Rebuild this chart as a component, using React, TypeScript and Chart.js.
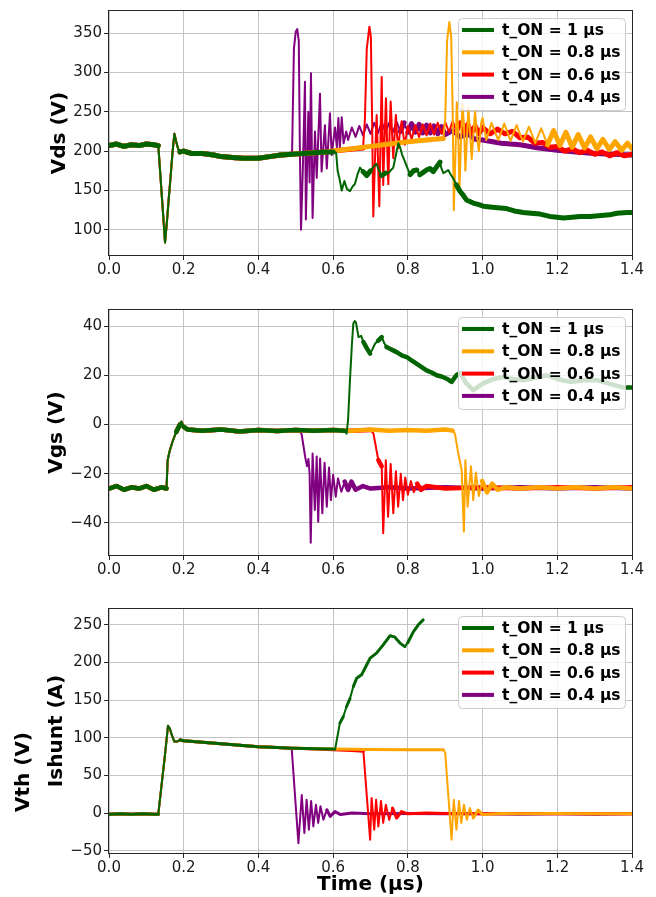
import React, { useEffect, useRef } from "react";
import { Chart, registerables } from "chart.js";

Chart.register(...registerables);

const FONT = "'DejaVu Sans', sans-serif";

const SERIES_LABELS = ["t_ON = 1 µs", "t_ON = 0.8 µs", "t_ON = 0.6 µs", "t_ON = 0.4 µs"];
const SERIES_COLORS = ["#006400", "#FFA500", "#FF0000", "#800080"];

const X_TICKS = [0, 0.2, 0.4, 0.6, 0.8, 1.0, 1.2, 1.4];
const X_TITLE = "Time (µs)";

// ---------- Vds (V) ----------
const VDS_TICKS = [100, 150, 200, 250, 300, 350];
const VDS_SHARED: number[][] = [[0,207],[0.02,209],[0.04,206],[0.06,208],[0.08,207],[0.10,209],[0.12,208],[0.132,207],[0.137,173],[0.142,139],[0.146,112],[0.150,84],[0.155,110],[0.160,140],[0.165,168],[0.170,198],[0.175,222],[0.180,212],[0.185,203],[0.190,199],[0.200,200],[0.220,197],[0.250,197],[0.280,195],[0.300,193],[0.330,192],[0.360,191],[0.400,191],[0.430,193],[0.460,195],[0.490,196]];
const VDS_GREEN: number[][] = [[0.52,197],[0.55,198],[0.58,199],[0.60,199],[0.608,198],[0.612,175],[0.617,165],[0.623,150],[0.630,162],[0.637,152],[0.645,149],[0.652,155],[0.658,158],[0.665,170],[0.672,179],[0.680,174],[0.690,169],[0.700,175],[0.708,180],[0.716,184],[0.722,176],[0.730,169],[0.740,172],[0.748,172],[0.755,176],[0.761,179],[0.768,195],[0.7745,210],[0.779,205],[0.785,195],[0.792,187],[0.800,177],[0.806,170],[0.815,175],[0.824,176],[0.832,170],[0.841,173],[0.850,176],[0.859,178],[0.868,174],[0.877,180],[0.886,186],[0.890,178],[0.895,172],[0.902,174],[0.908,176],[0.915,170],[0.922,165],[0.930,157],[0.9395,149],[0.948,144],[0.957,138],[0.966,136],[0.975,134],[0.990,132],[1.002,130],[1.020,129],[1.040,128],[1.064,127],[1.085,124],[1.109,122],[1.130,121],[1.154,120],[1.180,117],[1.200,116],[1.216,115],[1.240,116],[1.260,117],[1.288,117],[1.310,118],[1.340,119],[1.360,121],[1.386,122],[1.400,122]];
const VDS_ORANGE: number[][] = [[0.52,197],[0.55,198],[0.58,199],[0.60,200],[0.65,203],[0.70,206],[0.75,209],[0.80,212],[0.85,214],[0.895,216],[0.900,240],[0.905,340],[0.911,364],[0.916,345],[0.920,250],[0.923,125],[0.927,190],[0.931,262],[0.935,220],[0.938,150],[0.942,210],[0.946,260],[0.950,235],[0.954,175],[0.958,215],[0.962,255],[0.967,220],[0.971,190],[0.976,225],[0.980,250],[0.986,215],[0.990,200],[0.996,235],[1.000,242],[1.010,214],[1.024,236],[1.042,214],[1.058,235],[1.075,213],[1.091,233],[1.108,212],[1.124,231],[1.141,210],[1.157,229],[1.174,208],[1.190,226],[1.207,207],[1.223,224],[1.240,205],[1.256,221],[1.273,204],[1.289,218],[1.306,203],[1.322,215],[1.339,202],[1.355,212],[1.372,201],[1.388,210],[1.400,203]];
const VDS_RED: number[][] = [[0.52,197],[0.55,198],[0.58,199],[0.60,200],[0.62,201],[0.64,202],[0.66,203],[0.68,204],[0.685,240],[0.690,330],[0.697,358],[0.701,345],[0.704,250],[0.7075,117],[0.712,190],[0.7165,246],[0.720,190],[0.7236,130],[0.727,220],[0.730,294],[0.734,157],[0.738,220],[0.7414,267],[0.745,200],[0.7477,158],[0.751,220],[0.754,263],[0.758,220],[0.761,191],[0.765,225],[0.768,246],[0.771,220],[0.7745,204],[0.779,225],[0.7834,238],[0.788,220],[0.792,208],[0.800,232],[0.810,215],[0.820,233],[0.830,218],[0.840,234],[0.850,220],[0.860,235],[0.870,221],[0.880,236],[0.890,222],[0.900,237],[0.910,224],[0.920,238],[0.930,225],[0.940,236],[0.950,224],[0.960,234],[0.970,223],[0.980,232],[0.990,222],[1.000,230],[1.020,222],[1.040,228],[1.060,222],[1.080,225],[1.100,217],[1.120,218],[1.140,210],[1.160,211],[1.180,205],[1.200,206],[1.220,200],[1.240,203],[1.260,198],[1.280,201],[1.300,196],[1.320,199],[1.340,194],[1.360,198],[1.380,194],[1.400,196]];
const VDS_PURPLE: number[][] = [[0.495,330],[0.500,352],[0.504,355],[0.508,340],[0.511,200],[0.514,100],[0.519,180],[0.5246,288],[0.527,113],[0.5336,250],[0.537,160],[0.5407,299],[0.545,115],[0.5514,225],[0.556,166],[0.5648,273],[0.569,174],[0.578,233],[0.583,178],[0.5915,248],[0.596,195],[0.605,230],[0.610,205],[0.614,242],[0.618,204],[0.623,243],[0.628,210],[0.635,225],[0.640,214],[0.650,230],[0.660,218],[0.670,232],[0.680,220],[0.690,234],[0.700,222],[0.710,236],[0.720,223],[0.730,237],[0.740,224],[0.750,236],[0.760,224],[0.770,237],[0.780,225],[0.790,236],[0.800,224],[0.810,235],[0.820,224],[0.830,234],[0.840,223],[0.850,233],[0.860,223],[0.870,232],[0.880,222],[0.890,231],[0.900,221],[0.920,226],[0.940,218],[0.960,222],[0.980,215],[1.000,214],[1.050,210],[1.100,208],[1.150,204],[1.200,201],[1.250,199],[1.300,197],[1.350,196],[1.400,195]];

// ---------- Vgs (V) ----------
const VGS_TICKS = [-40, -20, 0, 20, 40];
const VGS_SHARED: number[][] = [[0,-26],[0.02,-25],[0.04,-26.5],[0.06,-25.5],[0.08,-26],[0.10,-25],[0.12,-26.5],[0.14,-25.5],[0.154,-26],[0.157,-14.5],[0.162,-11],[0.170,-7],[0.180,-3],[0.190,0],[0.194,1.2],[0.200,-1],[0.210,-2],[0.25,-2.5],[0.30,-2],[0.35,-2.8],[0.40,-2.2],[0.45,-2.6],[0.50,-2.2]];
const VGS_GREEN: number[][] = [[0.55,-2.5],[0.60,-2.2],[0.63,-2.5],[0.636,-3.7],[0.640,2],[0.645,18],[0.650,32],[0.654,41],[0.658,42],[0.661,41.5],[0.668,35.5],[0.675,36],[0.681,33.5],[0.690,31],[0.699,28.8],[0.705,30.5],[0.712,32.8],[0.720,34],[0.730,35.5],[0.737,33],[0.743,31.5],[0.755,30.5],[0.770,29.4],[0.785,28],[0.797,27.4],[0.810,26],[0.823,24.7],[0.835,23.5],[0.850,22],[0.865,21],[0.877,20],[0.890,19.5],[0.904,18.6],[0.917,17.3],[0.930,20],[0.940,21],[0.955,17],[0.975,13.9],[1.000,16.6],[1.030,18.5],[1.055,19.3],[1.080,18.5],[1.109,18],[1.140,19],[1.172,20],[1.200,18.5],[1.234,17.3],[1.270,18],[1.306,18],[1.340,16.5],[1.377,15],[1.400,15]];
const VGS_ORANGE: number[][] = [[0.55,-2.5],[0.60,-2.2],[0.65,-2.5],[0.70,-2],[0.75,-2.5],[0.80,-2.2],[0.85,-2.5],[0.90,-2],[0.92,-2.5],[0.926,-3.7],[0.935,-11.8],[0.944,-18.5],[0.950,-43.5],[0.954,-14.5],[0.960,-33.4],[0.969,-17],[0.975,-30.7],[0.982,-19.5],[0.990,-29],[0.999,-23],[1.012,-27.6],[1.026,-24],[1.040,-26.5],[1.060,-25.5],[1.100,-26],[1.150,-25.5],[1.200,-26],[1.250,-25.5],[1.300,-26],[1.350,-25.5],[1.400,-26]];
const VGS_RED: number[][] = [[0.55,-2.5],[0.60,-2.2],[0.65,-2.5],[0.70,-2.2],[0.708,-3.7],[0.721,-14.5],[0.730,-17],[0.734,-44.2],[0.741,-14.5],[0.747,-37.5],[0.754,-16],[0.761,-36],[0.768,-19],[0.774,-33.4],[0.781,-20],[0.787,-30.7],[0.793,-21.5],[0.800,-28.5],[0.808,-23],[0.816,-27.5],[0.825,-24],[0.835,-26.5],[0.850,-25],[0.900,-26],[1.000,-25.5],[1.100,-26],[1.200,-25.5],[1.300,-26],[1.400,-25.5]];
const VGS_PURPLE: number[][] = [[0.512,-2.5],[0.516,-4.3],[0.525,-13],[0.530,-17],[0.534,-14],[0.537,-20],[0.540,-48],[0.545,-11.8],[0.551,-34.7],[0.556,-13],[0.560,-39.5],[0.565,-13.8],[0.571,-36],[0.577,-15.5],[0.583,-33.4],[0.589,-17.5],[0.594,-30.7],[0.600,-20.4],[0.607,-29.3],[0.613,-21.9],[0.622,-27.3],[0.631,-23.2],[0.640,-26.6],[0.649,-23.2],[0.660,-26.5],[0.680,-25],[0.700,-26],[0.750,-25.5],[0.800,-26],[0.900,-25.5],[1.000,-26],[1.100,-25.5],[1.200,-26],[1.300,-25.5],[1.400,-26]];

// ---------- Ishunt (A) ----------
const ISH_TICKS = [-50, 0, 50, 100, 150, 200, 250];
const ISH_SHARED: number[][] = [[0,-1.5],[0.03,-1],[0.06,-1.5],[0.09,-1],[0.12,-1.5],[0.132,-1.5],[0.140,34],[0.150,78],[0.158,116],[0.163,112],[0.168,104],[0.175,95],[0.182,95],[0.190,97],[0.200,96],[0.25,94],[0.30,92],[0.35,90],[0.40,88],[0.45,87],[0.489,86]];
const ISH_GREEN: number[][] = [[0.50,86],[0.55,85.5],[0.600,85],[0.605,84],[0.609,95],[0.618,119.5],[0.627,128],[0.636,141.5],[0.645,152],[0.654,168],[0.663,179],[0.676,183.6],[0.690,197],[0.699,205.8],[0.716,212.4],[0.734,223.4],[0.752,235.4],[0.764,234],[0.779,225.7],[0.792,221],[0.800,226.6],[0.815,241],[0.828,250],[0.841,256.6]];
const ISH_ORANGE: number[][] = [[0.50,86],[0.60,85],[0.70,84.5],[0.80,84],[0.895,84],[0.900,80],[0.917,-35.4],[0.923,17.7],[0.930,-22],[0.937,16],[0.943,-13],[0.950,11],[0.958,-9],[0.966,6.6],[0.975,-6.6],[0.988,4],[1.000,-2],[1.050,-0.5],[1.100,-1],[1.200,-0.5],[1.300,-1],[1.400,-1]];
const ISH_RED: number[][] = [[0.50,86],[0.55,85],[0.60,84],[0.65,83],[0.681,82],[0.699,-35.4],[0.703,20],[0.710,-22],[0.715,17.7],[0.721,-17.7],[0.728,16],[0.734,-13],[0.741,11],[0.750,-9],[0.759,6.6],[0.770,-6.6],[0.783,2],[0.800,-1],[0.850,0],[0.900,-0.5],[1.000,-1],[1.100,-0.5],[1.200,-1],[1.300,-1],[1.400,-1]];
const ISH_PURPLE: number[][] = [[0.507,-40],[0.516,24],[0.523,-26.5],[0.529,17.7],[0.535,-22],[0.541,16],[0.547,-17.7],[0.554,11],[0.560,-13],[0.566,9],[0.574,-8.8],[0.583,4.4],[0.592,-4.4],[0.605,2],[0.620,-2],[0.650,0],[0.700,-1],[0.800,-0.5],[0.900,-1],[1.000,-1],[1.100,-1.5],[1.200,-1],[1.300,-1.5],[1.400,-1]];

type Panel = {
  top: number;
  height: number;
  padTop: number;
  xAxisHeight: number;
  yMin: number;
  yMax: number;
  yTicks: number[];
  yTitle: string;
  yTitlePad: number;
  noiseWidth: number;
  xTitle?: string;
  extraTitle?: string;
  shared: number[][];
  tails: number[][][];
};

const PANELS: Panel[] = [
  { top: 0, height: 298, padTop: 11, xAxisHeight: 43, yMin: 68, yMax: 378, yTicks: VDS_TICKS, yTitle: "Vds (V)", yTitlePad: 48, noiseWidth: 5, shared: VDS_SHARED, tails: [VDS_GREEN, VDS_ORANGE, VDS_RED, VDS_PURPLE] },
  { top: 298, height: 298, padTop: 12, xAxisHeight: 41, yMin: -53, yMax: 46.5, yTicks: VGS_TICKS, yTitle: "Vgs (V)", yTitlePad: 45, noiseWidth: 4.5, shared: VGS_SHARED, tails: [VGS_GREEN, VGS_ORANGE, VGS_RED, VGS_PURPLE] },
  { top: 596, height: 301, padTop: 13, xAxisHeight: 44, yMin: -53, yMax: 271, yTicks: ISH_TICKS, yTitle: "Ishunt (A)", yTitlePad: 45, noiseWidth: 3, xTitle: X_TITLE, extraTitle: "Vth (V)", shared: ISH_SHARED, tails: [ISH_GREEN, ISH_ORANGE, ISH_RED, ISH_PURPLE] },
];

const fmtY = (v: number) => (v < 0 ? "\u2212" + Math.abs(v) : String(v));

function roundRect(ctx: CanvasRenderingContext2D, x: number, y: number, w: number, h: number, r: number) {
  ctx.beginPath();
  ctx.moveTo(x + r, y);
  ctx.lineTo(x + w - r, y);
  ctx.arcTo(x + w, y, x + w, y + r, r);
  ctx.lineTo(x + w, y + h - r);
  ctx.arcTo(x + w, y + h, x + w - r, y + h, r);
  ctx.lineTo(x + r, y + h);
  ctx.arcTo(x, y + h, x, y + h - r, r);
  ctx.lineTo(x, y + r);
  ctx.arcTo(x, y, x + r, y, r);
  ctx.closePath();
}

function makeDecorPlugin(panel: Panel) {
  return {
    id: "panelDecor",
    afterDatasetsDraw(chart: any) {
      const ctx: CanvasRenderingContext2D = chart.ctx;
      const a = chart.chartArea;
      ctx.save();
      ctx.strokeStyle = "#262626";
      ctx.lineWidth = 1;
      ctx.strokeRect(Math.round(a.left) - 0.5, Math.round(a.top) - 0.5, Math.round(a.right - a.left) + 1, Math.round(a.bottom - a.top) + 1);
      const w = 167, h = 92;
      const bx = a.right - 7 - w;
      const by = a.top + 7;
      roundRect(ctx, bx + 0.5, by + 0.5, w, h, 4);
      ctx.fillStyle = "rgba(255,255,255,0.8)";
      ctx.fill();
      ctx.strokeStyle = "#cccccc";
      ctx.stroke();
      ctx.font = `bold 15.5px ${FONT}`;
      ctx.textBaseline = "middle";
      ctx.textAlign = "left";
      SERIES_LABELS.forEach((label, i) => {
        const y = by + 12 + i * 22.3;
        ctx.strokeStyle = SERIES_COLORS[i];
        ctx.lineWidth = 4;
        ctx.beginPath();
        ctx.moveTo(bx + 4, y);
        ctx.lineTo(bx + 36, y);
        ctx.stroke();
        ctx.fillStyle = "#000";
        ctx.fillText(label, bx + 44, y + 1);
      });
      ctx.restore();
    },
    afterDraw(chart: any) {
      if (!panel.extraTitle) return;
      const ctx: CanvasRenderingContext2D = chart.ctx;
      const a = chart.chartArea;
      ctx.save();
      ctx.translate(a.left - 85, (a.top + a.bottom) / 2 + 41);
      ctx.rotate(-Math.PI / 2);
      ctx.font = `bold 20px ${FONT}`;
      ctx.fillStyle = "#000";
      ctx.textAlign = "center";
      ctx.textBaseline = "middle";
      ctx.fillText(panel.extraTitle, 0, 0);
      ctx.restore();
    },
  };
}

function buildConfig(panel: Panel): any {
  const datasets = panel.tails.map((tail, i) => ({
    label: SERIES_LABELS[i],
    data: [...panel.shared, ...tail].map(([x, y]) => ({ x, y })),
    borderColor: SERIES_COLORS[i],
    backgroundColor: SERIES_COLORS[i],
    borderWidth: 2,
    pointRadius: 0,
    tension: 0,
    fill: false,
    borderJoinStyle: "round",
    borderCapStyle: "round",
    segment: {
      borderWidth: (ctx: any) => {
        const dx = Math.abs(ctx.p1.x - ctx.p0.x);
        const dy = Math.abs(ctx.p1.y - ctx.p0.y);
        return dx >= 3 && dy < dx * 2.5 ? panel.noiseWidth : 2;
      },
    },
  }));
  return {
    type: "line",
    data: { datasets },
    options: {
      responsive: false,
      animation: false,
      events: [],
      layout: { padding: { left: 0, right: 24, top: panel.padTop, bottom: 0 } },
      plugins: { legend: { display: false }, tooltip: { enabled: false }, title: { display: false } },
      scales: {
        x: {
          type: "linear",
          min: 0,
          max: 1.4,
          afterBuildTicks: (s: any) => {
            s.ticks = X_TICKS.map((value) => ({ value }));
          },
          afterFit: (s: any) => {
            s.height = panel.xAxisHeight;
            s.paddingLeft = 0;
            s.paddingRight = 0;
          },
          ticks: {
            autoSkip: false,
            maxRotation: 0,
            padding: 1,
            color: "#1a1a1a",
            font: { family: FONT, size: 15 },
            callback: (v: any) => Number(v).toFixed(1),
          },
          grid: { color: "#c4c4c4", lineWidth: 1, drawTicks: true, tickLength: 5, tickColor: "#262626" },
          border: { display: false },
          title: panel.xTitle
            ? { display: true, text: panel.xTitle, color: "#000", font: { family: FONT, size: 20, weight: "bold" }, padding: { top: 0, bottom: 0 } }
            : { display: false },
        },
        y: {
          type: "linear",
          min: panel.yMin,
          max: panel.yMax,
          afterBuildTicks: (s: any) => {
            s.ticks = panel.yTicks.map((value) => ({ value }));
          },
          afterFit: (s: any) => {
            s.width = 109;
            s.paddingTop = 0;
            s.paddingBottom = 0;
          },
          ticks: {
            padding: 2,
            color: "#1a1a1a",
            font: { family: FONT, size: 15 },
            callback: (v: any) => fmtY(Number(v)),
          },
          grid: { color: "#c4c4c4", lineWidth: 1, drawTicks: true, tickLength: 5, tickColor: "#262626" },
          border: { display: false },
          title: {
            display: true,
            text: panel.yTitle,
            color: "#000",
            font: { family: FONT, size: 20, weight: "bold" },
            padding: { top: panel.yTitlePad, bottom: 0 },
          },
        },
      },
    },
    plugins: [makeDecorPlugin(panel)],
  };
}

function PanelChart({ panel }: { panel: Panel }) {
  const ref = useRef<HTMLCanvasElement>(null);
  useEffect(() => {
    const chart = new Chart(ref.current as HTMLCanvasElement, buildConfig(panel));
    return () => chart.destroy();
  }, [panel]);
  return (
    <canvas
      ref={ref}
      width={656}
      height={panel.height}
      style={{ position: "absolute", left: 0, top: panel.top, width: 656, height: panel.height }}
    />
  );
}

export default function App() {
  return (
    <div style={{ position: "absolute", left: 0, top: 0, width: 656, height: 897, background: "#ffffff" }}>
      {PANELS.map((p, i) => (
        <PanelChart key={i} panel={p} />
      ))}
    </div>
  );
}
